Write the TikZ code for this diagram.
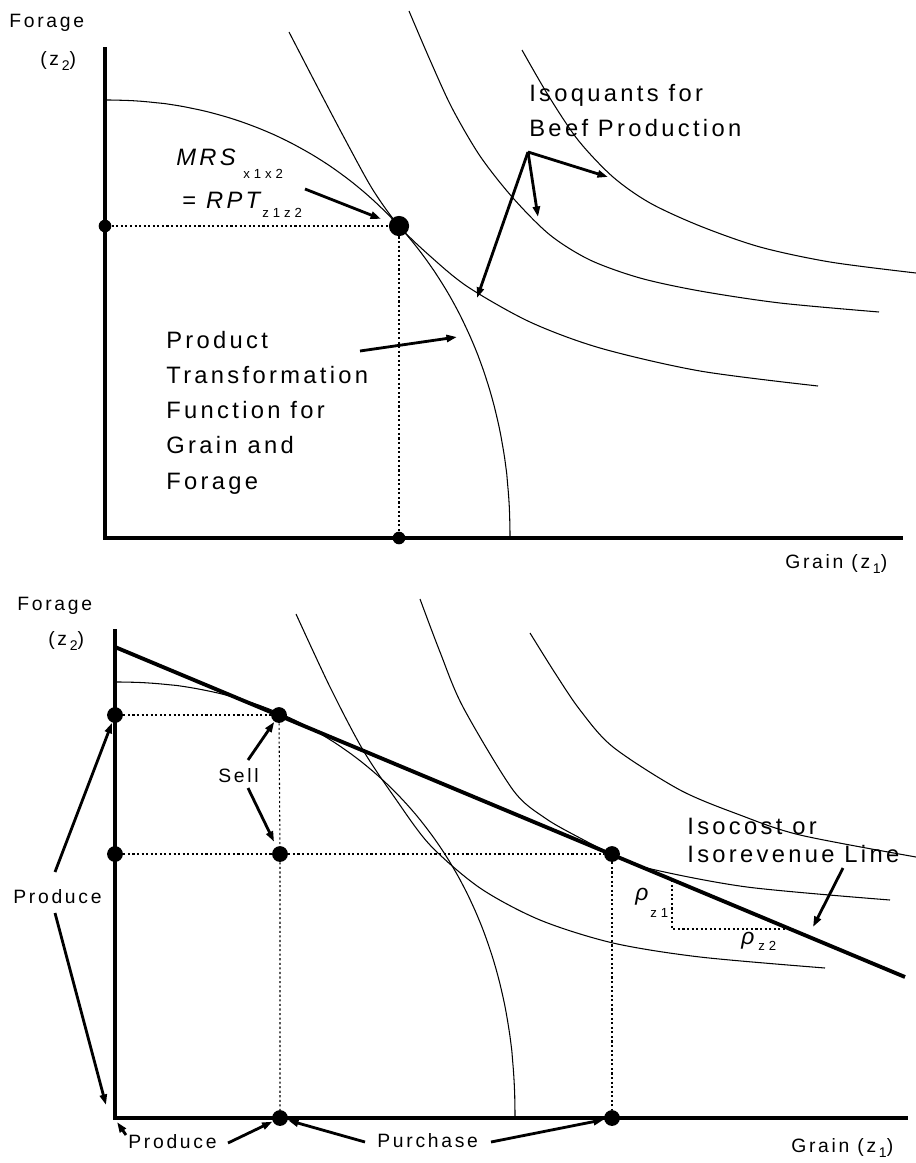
\documentclass[tikz,border=0pt]{standalone}
\usepackage{fontspec}
\newfontfamily\lblfont[LetterSpace=14]{Liberation Sans}
\newfontfamily\subfont[LetterSpace=30]{Liberation Sans}
\usetikzlibrary{arrows.meta}
\newcommand{\lowsub}[1]{\hspace{1.5pt}\raisebox{-3pt}{\fontsize{8}{8}\selectfont #1}}
\tikzset{
  axis/.style={line width=2pt},
  curve/.style={line width=0.6pt},
  budget/.style={line width=2.2pt},
  guide/.style={line width=0.6pt, dash pattern=on 1.2pt off 1.4pt},
  arrow/.style={-{Triangle[length=6pt,width=4pt]}, line width=1.6pt},
  dot/.style={circle, fill=black, inner sep=0pt, minimum size=9pt},
  bigdot/.style={dot, minimum size=11.5pt},
  smalldot/.style={dot, minimum size=7.2pt},
  lbl/.style={font=\lblfont\fontsize{13.5}{20}\selectfont, inner sep=0pt, anchor=north west, align=left},
  axlbl/.style={font=\lblfont\fontsize{11}{14}\selectfont, inner sep=0pt, anchor=base west},
  itlbl/.style={font=\lblfont\itshape\fontsize{13.5}{16}\selectfont, inner sep=0pt, anchor=base west},
  sublbl/.style={font=\subfont\fontsize{7.5}{9}\selectfont, inner sep=0pt, anchor=base west},
  rholbl/.style={font=\lblfont\itshape\fontsize{13}{14}\selectfont, inner sep=0pt, anchor=base west},
}

\begin{document}
\begin{tikzpicture}[x=0.02cm, y=-0.02cm]
\useasboundingbox (0,0) rectangle (916,1163);

% upper panel: transformation curve and isoquants
\draw[axis] (105,47) -- (105,538) -- (903,538);
\draw[curve] (105,100) -- plot[domain=89.5:0.5, samples=90] ({105+405*pow(cos(\x),0.952)}, {538-438*pow(sin(\x),0.952)}) -- (510,538);
\draw[curve] plot[smooth] coordinates {(289,32) (318,88) (347,143) (373,190) (399,226) (430,256) (468,287) (530,322) (600,348) (700,371) (818,386)};
\draw[curve] plot[smooth] coordinates {(409,11) (430,60) (452,108) (480,156) (513,198) (550,235) (590,260) (640,278) (700,291) (780,303) (879,312)};
\draw[curve] plot[smooth] coordinates {(522,50) (548,95) (578,140) (613,177) (650,203) (700,226) (760,247) (830,262) (916,273)};

\node[smalldot] (ydot1) at (105,226) {};
\node[bigdot] (tan1) at (399,226) {};
\node[smalldot] (xdot1) at (399,538) {};
\draw[guide] (ydot1) -- (tan1) -- (xdot1);

\node[axlbl] (forage1) at (9,27) {Forage};
\node[axlbl] (zz1) at (40,65) {(z\lowsub{2})};
\node[axlbl] (grain1) at (785,568) {Grain (z\lowsub{1})};
\node[itlbl] (mrs) at (176,165) {MRS};
\node[sublbl] (mrssub) at (243,178) {x1x2};
\node[itlbl] (rpt) at (182,208) {\upshape=\ \itshape RPT};
\node[sublbl] (rptsub) at (262,217) {z1z2};
\node[lbl] (isoq) at (529,84) {Isoquants for\\Beef Production};
\node[lbl] (ptf) at (166,331) {Product\\Transformation\\Function for\\Grain and\\Forage};

\coordinate (mrsfrom) at (305,189);
\coordinate (ptffrom) at (360,351);
\coordinate (ptftip) at (457,337);
\coordinate (isoqfrom) at (528,152);
\coordinate (iq1) at (608,177);
\coordinate (iq2) at (538,217);
\coordinate (iq3) at (477,298);
\draw[arrow, shorten >=5pt] (mrsfrom) -- (tan1);
\draw[arrow] (ptffrom) -- (ptftip);
\foreach \n in {iq1,iq2,iq3}
  \draw[arrow] (isoqfrom) -- (\n);

% lower panel: isocost line
\draw[axis] (115,629) -- (115,1118) -- (908,1118);
\draw[curve] (115,682) -- plot[domain=89.5:0.5, samples=90] ({115+400*pow(cos(\x),0.93)}, {1118-436*pow(sin(\x),0.93)}) -- (515,1118);
\draw[curve] plot[smooth] coordinates {(296,614) (330,687) (363,750) (395,798) (430,845) (480,888) (540,920) (613,943) (700,957) (825,968)};
\draw[curve] plot[smooth] coordinates {(420,599) (440,652) (463,707) (513,790) (545,818) (580,838) (612,854) (647,868) (747,887) (890,900)};
\draw[curve] plot[smooth] coordinates {(530,633) (555,673) (580,710) (613,747) (680,790) (740,815) (800,835) (916,857)};
\coordinate (ic1) at (115,647);
\coordinate (ic2) at (905,977);
\draw[budget] (ic1) -- (ic2);

\node[dot] (yp) at (115,715) {};
\node[dot] (yc) at (115,854) {};
\node[dot] (sellp) at (279,715) {};
\node[dot] (sellc) at (280,854) {};
\node[dot] (buyc) at (612,854) {};
\node[dot] (xp) at (280,1118) {};
\node[dot] (xc) at (612,1118) {};
\draw[guide] (yp) -- (sellp);
\draw[guide] (yc) -- (sellc) -- (buyc);
\draw[guide] (sellp) -- (sellc) -- (xp);
\draw[guide] (buyc) -- (xc);
\coordinate (pa) at (672,880);
\coordinate (pb) at (672,929);
\coordinate (pc) at (790,929);
\draw[guide] (pa) -- (pb) -- (pc);

\node[axlbl] (forage2) at (17,610) {Forage};
\node[axlbl] (zz2) at (48,645) {(z\lowsub{2})};
\node[axlbl] (grain2) at (791,1152) {Grain (z\lowsub{1})};
\node[axlbl] (sell) at (218,782) {Sell};
\node[axlbl] (prodl) at (13,903) {Produce};
\node[axlbl] (prodb) at (128,1148) {Produce};
\node[axlbl] (buy) at (377,1147) {Purchase};
\node[lbl, font=\lblfont\fontsize{13.5}{16}\selectfont] (isocost) at (687,818) {Isocost or\\Isorevenue Line};
\node[rholbl] (pz1) at (635,900) {ρ};
\node[sublbl] (pz1sub) at (650,917) {z1};
\node[rholbl] (pz2) at (741,944) {ρ};
\node[sublbl] (pz2sub) at (758,950) {z2};

\coordinate (sellfrom1) at (248,760);
\coordinate (sellfrom2) at (248,788);
\coordinate (prodfrom1) at (55,872);
\coordinate (prodfrom2) at (55,913);
\coordinate (prodtip2) at (106,1105);
\coordinate (prodfrom3) at (126,1135);
\coordinate (prodtip3) at (117,1122);
\coordinate (prodfrom4) at (228,1143);
\coordinate (buyfrom1) at (365,1142);
\coordinate (buyfrom2) at (491,1142);
\coordinate (icfrom) at (843,868);
\coordinate (ictip) at (813,927);
\draw[arrow] (sellfrom1) -- (sellp);
\draw[arrow, shorten >=3pt] (sellfrom2) -- (sellc);
\draw[arrow] (prodfrom1) -- (yp);
\draw[arrow] (prodfrom2) -- (prodtip2);
\draw[arrow] (prodfrom3) -- (prodtip3);
\draw[arrow] (prodfrom4) -- (xp);
\draw[arrow] (buyfrom1) -- (xp);
\draw[arrow] (buyfrom2) -- (xc);
\draw[arrow] (icfrom) -- (ictip);
\end{tikzpicture}
\end{document}
